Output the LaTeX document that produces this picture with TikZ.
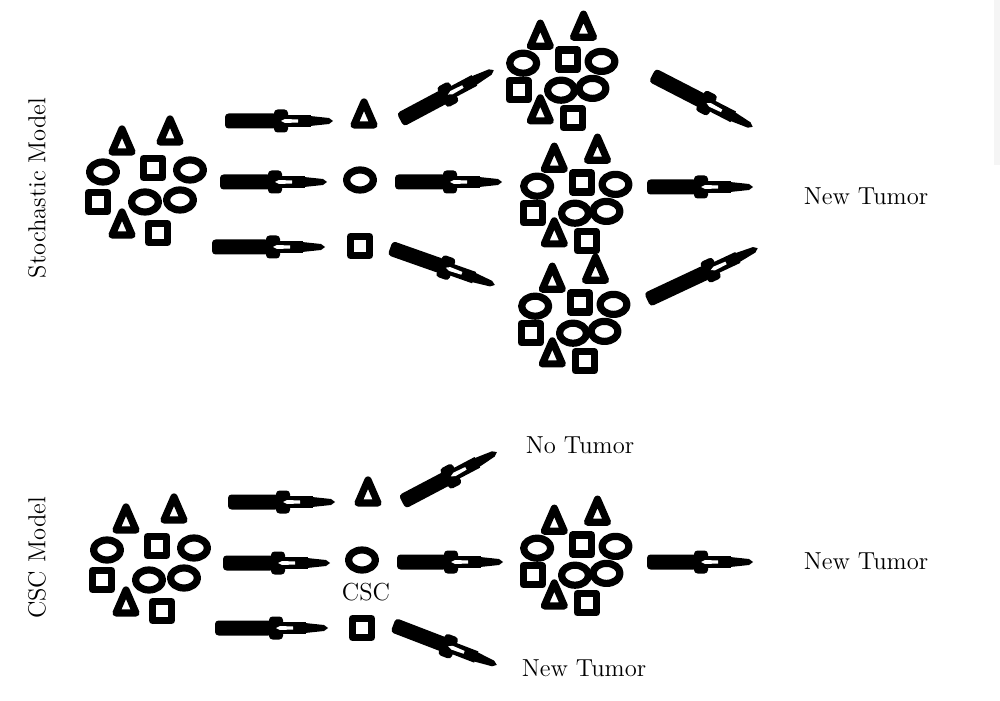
\documentclass[tikz,border=0pt]{standalone}
\usepackage{tikz}
\tikzset{
    cell/.style={line width=4.1pt, line join=round},
    lbl/.style={font=\fontsize{14}{16}\selectfont, inner sep=0pt},
    pics/tri/.style={code={\draw[cell] (0,13) -- (10,-10) -- (-10,-10) -- cycle;}},
    pics/ovl/.style={code={\draw[cell] (0,0) ellipse [x radius=13.5, y radius=10];}},
    pics/sqr/.style={code={\draw[cell] (-9.5,-9.5) rectangle (9.5,9.5);}},
    pics/clump/.style={code={
        \pic at (-23,42) {tri};
        \pic at (25,52) {tri};
        \pic at (-42,12) {ovl};
        \pic at (8,16) {sqr};
        \pic at (45,14) {ovl};
        \pic at (-47,-18) {sqr};
        \pic at (0,-18) {ovl};
        \pic at (35,-16) {ovl};
        \pic at (-23,-41) {tri};
        \pic at (13,-49) {sqr};
    }},
    pics/fatarr/.style={code={
        \pgfmathsetmacro\tp{#1/2}
        \fill[rounded corners=2pt] (-\tp,-7.5) rectangle (\tp-56,7.5);
        \fill[rounded corners=2pt] (\tp-59,-11.5) rectangle (\tp-45,11.5);
        \fill (\tp-46,-6) rectangle (\tp-22,6);
        \fill (\tp-23,5) -- (\tp-4,3) -- (\tp,0) -- (\tp-4,-3) -- (\tp-23,-5) -- cycle;
        \fill[white] (\tp-52,0) -- (\tp-48,2) -- (\tp-35,1.5) -- (\tp-35,-1.5) -- (\tp-48,-2) -- cycle;
    }},
    pics/fatarr/.default=108,
}
\begin{document}
\begin{tikzpicture}[x=0.02cm, y=0.02cm]
    \useasboundingbox (0,0) rectangle (1000,700);
    \fill[black!4] (994,535) rectangle (1000,700);

    \node[lbl, rotate=90] (sto) at (37,512) {Stochastic Model};
    \node[lbl, rotate=90] (csc) at (37,142) {CSC Model};

    \pic at (145,516) {clump};
    \pic at (364,585) {tri};
    \pic at (360,520) {ovl};
    \pic at (360,454) {sqr};
    \pic[scale=0.9] at (561,626) {clump};
    \pic[scale=0.9] at (575,503) {clump};
    \pic[scale=0.9] at (573,383) {clump};
    \node[lbl] (nt1) at (866,504) {New Tumor};

    \pic at (149,138) {clump};
    \pic at (368,207) {tri};
    \pic at (362,140) {ovl};
    \pic at (362,72) {sqr};
    \node[lbl] (cs) at (366,108) {CSC};
    \node[lbl] (no) at (580,255) {No Tumor};
    \pic[scale=0.9] at (575,141) {clump};
    \node[lbl] (nt2) at (866,139) {New Tumor};
    \node[lbl] (nt3) at (584,32) {New Tumor};

    \coordinate (a1) at (225,579); \coordinate (b1) at (333,579);
    \coordinate (a2) at (220,518); \coordinate (b2) at (327,518);
    \coordinate (a3) at (212,453); \coordinate (b3) at (325,453);
    \coordinate (a4) at (400,580); \coordinate (b4) at (494,630);
    \coordinate (a5) at (395,518); \coordinate (b5) at (502,518);
    \coordinate (a6) at (390,452); \coordinate (b6) at (495,415);
    \coordinate (a7) at (652,625); \coordinate (b7) at (753,573);
    \coordinate (a8) at (647,513); \coordinate (b8) at (753,513);
    \coordinate (a9) at (647,400); \coordinate (b9) at (758,452);
    \path (a1) -- (b1) pic[pos=.5, sloped] {fatarr=108};
    \path (a2) -- (b2) pic[pos=.5, sloped] {fatarr=107};
    \path (a3) -- (b3) pic[pos=.5, sloped] {fatarr=113};
    \path (a4) -- (b4) pic[pos=.5, sloped] {fatarr=106};
    \path (a5) -- (b5) pic[pos=.5, sloped] {fatarr=107};
    \path (a6) -- (b6) pic[pos=.5, sloped] {fatarr=111};
    \path (a7) -- (b7) pic[pos=.5, sloped] {fatarr=113};
    \path (a8) -- (b8) pic[pos=.5, sloped] {fatarr=106};
    \path (a9) -- (b9) pic[pos=.5, sloped] {fatarr=122};

    \coordinate (c1) at (228,198); \coordinate (d1) at (335,198);
    \coordinate (c2) at (223,137); \coordinate (d2) at (330,137);
    \coordinate (c3) at (215,72); \coordinate (d3) at (328,72);
    \coordinate (c4) at (402,198); \coordinate (d4) at (497,248);
    \coordinate (c5) at (397,138); \coordinate (d5) at (503,138);
    \coordinate (c6) at (393,75); \coordinate (d6) at (497,35);
    \coordinate (c7) at (647,138); \coordinate (d7) at (753,138);
    \path (c1) -- (d1) pic[pos=.5, sloped] {fatarr=107};
    \path (c2) -- (d2) pic[pos=.5, sloped] {fatarr=107};
    \path (c3) -- (d3) pic[pos=.5, sloped] {fatarr=113};
    \path (c4) -- (d4) pic[pos=.5, sloped] {fatarr=107};
    \path (c5) -- (d5) pic[pos=.5, sloped] {fatarr=106};
    \path (c6) -- (d6) pic[pos=.5, sloped] {fatarr=111};
    \path (c7) -- (d7) pic[pos=.5, sloped] {fatarr=106};
\end{tikzpicture}
\end{document}
